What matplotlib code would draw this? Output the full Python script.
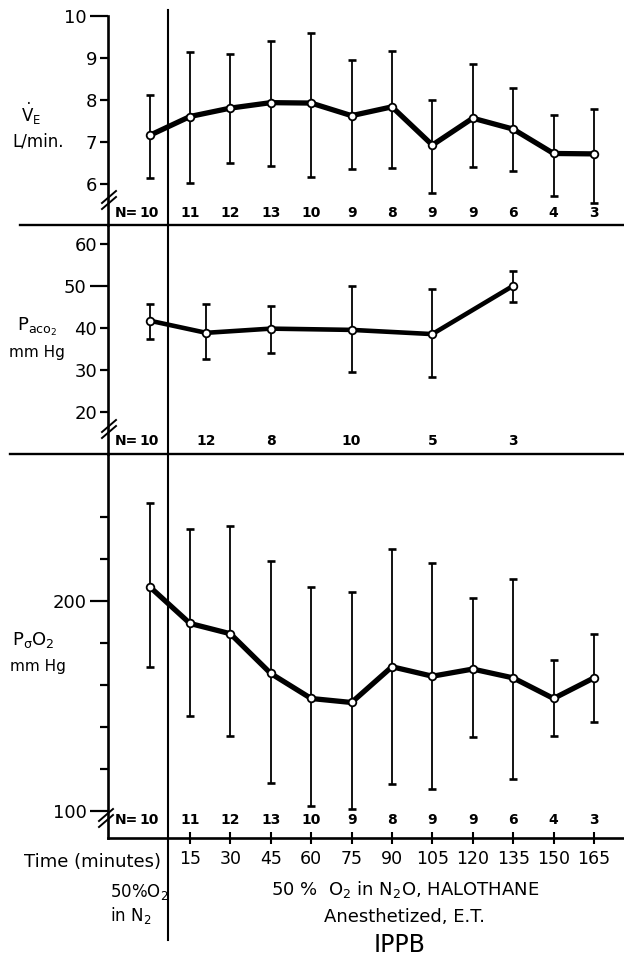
import matplotlib
matplotlib.use("Agg")
import matplotlib.pyplot as plt
import matplotlib.transforms as mtransforms
from matplotlib.lines import Line2D
import numpy as np

plt.rcParams["font.family"] = ["DejaVu Sans"]
plt.rcParams["mathtext.default"] = "regular"

# ---------------- data ----------------
time_min = [0, 15, 30, 45, 60, 75, 90, 105, 120, 135, 150, 165]
xtick_times = [15, 30, 45, 60, 75, 90, 105, 120, 135, 150, 165]
xtick_labels = ["15", "30", "45", "60", "75", "90", "105", "120", "135", "150", "165"]

ve_mean = [7.15, 7.6, 7.8, 7.93, 7.92, 7.62, 7.83, 6.92, 7.56, 7.3, 6.72, 6.71]
ve_upper = [8.11, 9.14, 9.1, 9.39, 9.6, 8.94, 9.16, 8.0, 8.86, 8.28, 7.64, 7.78]
ve_lower = [6.14, 6.02, 6.5, 6.42, 6.16, 6.36, 6.38, 5.77, 6.4, 6.31, 5.70, 5.54]
ve_n = [10, 11, 12, 13, 10, 9, 8, 9, 9, 6, 4, 3]

paco2_time = [0, 21, 45, 75, 105, 135]
paco2_mean = [41.8, 38.9, 39.9, 39.6, 38.6, 50.1]
paco2_upper = [45.8, 45.8, 45.4, 50.1, 49.4, 53.6]
paco2_lower = [37.4, 32.6, 34.2, 29.5, 28.4, 46.2]
paco2_n = [10, 12, 8, 10, 5, 3]

pvo2_mean = [206.7, 189.2, 184.3, 165.4, 153.5, 151.6, 168.6, 164.1, 167.5, 163.3, 153.5, 163.3]
pvo2_upper = [246.4, 234.0, 235.6, 218.9, 206.4, 204.3, 224.5, 217.8, 201.4, 210.3, 171.8, 184.1]
pvo2_lower = [168.6, 145.2, 135.6, 113.3, 102.2, 101.1, 112.6, 110.3, 135.0, 115.4, 135.6, 142.4]
pvo2_n = [10, 11, 12, 13, 10, 9, 8, 9, 9, 6, 4, 3]

ve_major, ve_minor = [10], [6, 7, 8, 9]
pa_major, pa_minor = [50], [20, 30, 40, 60]
pv_major, pv_minor = [100, 200], [120, 140, 160, 180, 220, 240]

# ---------------- layout ----------------
W, H = 624, 956
fig = plt.figure(figsize=(W / 100, H / 100), dpi=100)
fig.patch.set_facecolor("white")


def fx(px):
    return px / W


def fy(py):
    return 1 - py / H


XL = 107.5
XLIM = (-15.63, 176.16)


def make_axes(top_px, bot_px):
    ax = fig.add_axes([fx(XL), fy(bot_px), 1 - fx(XL), (bot_px - top_px) / H])
    ax.set_xlim(*XLIM)
    for s in ("top", "right"):
        ax.spines[s].set_visible(False)
    ax.spines["left"].set_linewidth(1.9)
    ax.patch.set_alpha(0)
    return ax


ax1 = make_axes(15.7, 225)
ax2 = make_axes(225, 454)
ax3 = make_axes(454, 838.3)

ax1.set_ylim(5.017, 10.0)
ax2.set_ylim(10.03, 64.59)
ax3.set_ylim(87.0, 269.8)

for ax in (ax1, ax2):
    ax.spines["bottom"].set_visible(False)
    ax.set_xticks([])

ax3.spines["bottom"].set_linewidth(1.9)
ax3.set_xticks(xtick_times)
ax3.set_xticklabels(xtick_labels, fontsize=12.5)
ax3.tick_params(axis="x", direction="inout", length=9, width=1.5, pad=4)


def set_yticks(ax, major, minor, label_minor=True, fs=13):
    ax.set_yticks(major)
    ax.set_yticklabels([str(v) for v in major])
    ax.set_yticks(minor, minor=True)
    if label_minor:
        ax.set_yticklabels([str(v) for v in minor], minor=True)
    ax.tick_params(axis="y", which="major", length=13, width=1.6, pad=2, labelsize=fs)
    ax.tick_params(axis="y", which="minor", length=5.5, width=1.6, pad=2, labelsize=fs)


set_yticks(ax1, ve_major, ve_minor)
set_yticks(ax2, pa_major, pa_minor)
set_yticks(ax3, pv_major, pv_minor, label_minor=False)


def panel(ax, t, m, lo, hi, lw):
    m = np.asarray(m)
    err = [m - np.asarray(lo), np.asarray(hi) - m]
    ax.errorbar(t, m, yerr=err, fmt="none", ecolor="black", elinewidth=1.3,
                capsize=3.2, capthick=1.9, zorder=2, clip_on=False)
    ax.plot(t, m, "-", color="black", lw=lw, solid_joinstyle="round",
            solid_capstyle="round", zorder=3, clip_on=False)
    ax.plot(t, m, "o", ms=5.5, mfc="white", mec="black", mew=1.3, zorder=4, clip_on=False)


panel(ax1, time_min, ve_mean, ve_lower, ve_upper, 3.8)
panel(ax2, paco2_time, paco2_mean, paco2_lower, paco2_upper, 3.3)
panel(ax3, time_min, pvo2_mean, pvo2_lower, pvo2_upper, 3.8)


def n_row(ax, t, n, yfrac):
    tr = mtransforms.blended_transform_factory(ax.transData, ax.transAxes)
    for ti, ni in zip(t, n):
        ax.text(ti, yfrac, str(ni), transform=tr, ha="center", va="center",
                fontsize=10, fontweight="bold")
    ax.annotate("N=", xy=(t[0], yfrac), xycoords=tr, xytext=(-8, 0),
                textcoords="offset points", ha="right", va="center",
                fontsize=10, fontweight="bold")


n_row(ax1, time_min, ve_n, (225 - 213) / (225 - 15.7))
n_row(ax2, paco2_time, paco2_n, (454 - 440.7) / (454 - 225))
n_row(ax3, time_min, pvo2_n, (838.3 - 820) / (838.3 - 454))

# separators between panels
fig.add_artist(Line2D([fx(20), 1], [fy(225), fy(225)], transform=fig.transFigure,
                      color="black", lw=1.7))
fig.add_artist(Line2D([fx(10), 1], [fy(454), fy(454)], transform=fig.transFigure,
                      color="black", lw=1.7))

# vertical line separating the control period
vtr = mtransforms.blended_transform_factory(ax3.transData, fig.transFigure)
fig.add_artist(Line2D([7, 7], [fy(10), fy(940)], transform=vtr, color="black", lw=1.5))


# axis break marks
def break_mark(cx, cy):
    for off in (-3.0, 3.0):
        fig.add_artist(Line2D([fx(cx - 7), fx(cx + 7)],
                              [fy(cy + off + 6), fy(cy + off - 6)],
                              transform=fig.transFigure, color="black", lw=1.4))


break_mark(109, 200)
break_mark(109, 429)
break_mark(106, 818)

# y-axis titles
fig.text(fx(31), fy(114), r"$\dot{V}_E$", ha="center", va="center", fontsize=12)
fig.text(fx(38), fy(142), "L/min.", ha="center", va="center", fontsize=12)
fig.text(fx(37), fy(327), r"P$_{aco_2}$", ha="center", va="center", fontsize=13)
fig.text(fx(37), fy(352), "mm Hg", ha="center", va="center", fontsize=11)
fig.text(fx(33), fy(640), r"P$_{\sigma}$O$_2$", ha="center", va="center", fontsize=13)
fig.text(fx(38), fy(667), "mm Hg", ha="center", va="center", fontsize=11)

# bottom annotations
fig.text(fx(161), fy(862), "Time (minutes)", ha="right", va="center", fontsize=13)
fig.text(fx(110), fy(892), r"50%O$_2$", ha="left", va="center", fontsize=12)
fig.text(fx(110), fy(916), r"in N$_2$", ha="left", va="center", fontsize=12)
fig.text(fx(405), fy(890), r"50 %  O$_2$ in N$_2$O, HALOTHANE", ha="center", va="center", fontsize=13)
fig.text(fx(405), fy(917), "Anesthetized, E.T.", ha="center", va="center", fontsize=13)
fig.text(fx(400), fy(945), "IPPB", ha="center", va="center", fontsize=17)

fig.savefig("out.png", dpi=100, facecolor="white")
